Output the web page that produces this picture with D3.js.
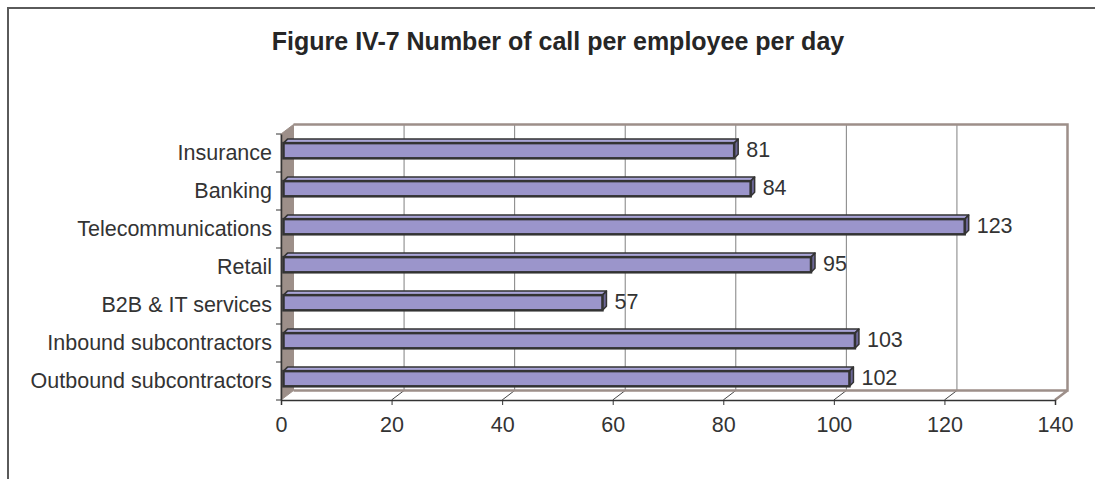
<!DOCTYPE html>
<html>
<head>
<meta charset="utf-8">
<script src="https://cdn.jsdelivr.net/npm/d3@7"></script>
<style>
  html, body { margin: 0; padding: 0; background: #fff; }
  svg { display: block; font-family: "Liberation Sans", Arial, sans-serif; }
</style>
</head>
<body>
<svg width="1095" height="479"></svg>
<script>
// data, top to bottom as shown
const categories = ["Insurance", "Banking", "Telecommunications", "Retail",
    "B2B & IT services", "Inbound subcontractors", "Outbound subcontractors"];
const values = [81, 84, 123, 95, 57, 103, 102];
const xTicks = [0, 20, 40, 60, 80, 100, 120, 140];
const title = "Figure IV-7 Number of call per employee per day";

const svg = d3.select("svg");

// 3D depth of the plot box (back wall is shifted by this)
const depth = { dx: 12.5, dy: -9.5 };
const barDepth = { dx: 4, dy: -4 };
const labelSize = 21.5;

const x = d3.scaleLinear()
    .domain([0, 140])
    .range([281, 1055]);

// bars sit a bit further back than the front axis
const xBar = d3.scaleLinear()
    .domain([0, 140])
    .range([289.6, 1058]);

const y = d3.scaleBand()
    .domain(categories)
    .range([134, 400])
    .paddingInner(0.6)
    .paddingOuter(0.3)
    .align(0.4);

const yTop = 134, yBottom = 400;

// outer frame (cut off on the right and bottom)
svg.append("path")
    .attr("d", "M8,479 L8,8 L1095,8")
    .attr("fill", "none")
    .attr("stroke", "#5a5a5a")
    .attr("stroke-width", 2);

svg.append("text")
    .attr("x", 558)
    .attr("y", 50)
    .attr("text-anchor", "middle")
    .attr("font-weight", "bold")
    .attr("font-size", 25)
    .attr("fill", "#262626")
    .text(title);

const wallColor = "#9d8f89";

// side wall
svg.append("polygon")
    .attr("points", [
        [x(0), yTop], [x(0) + depth.dx, yTop + depth.dy],
        [x(0) + depth.dx, yBottom + depth.dy], [x(0), yBottom]
    ].join(" "))
    .attr("fill", wallColor)
    .attr("stroke", wallColor);

// back wall gridlines
svg.append("g")
    .selectAll("line")
    .data(xTicks.slice(1, -1))
    .enter().append("line")
    .attr("x1", d => x(d) + depth.dx)
    .attr("x2", d => x(d) + depth.dx)
    .attr("y1", yTop + depth.dy)
    .attr("y2", yBottom + depth.dy)
    .attr("stroke", "#808080")
    .attr("stroke-width", 1);

// floor gridlines (diagonals from front ticks)
svg.append("g")
    .selectAll("line")
    .data(xTicks.slice(1, -1))
    .enter().append("line")
    .attr("x1", d => x(d))
    .attr("x2", d => x(d) + depth.dx)
    .attr("y1", yBottom)
    .attr("y2", yBottom + depth.dy)
    .attr("stroke", "#444")
    .attr("stroke-width", 1);

// back wall outline: top and right edge, floor back edge + right diagonal
svg.append("path")
    .attr("d", `M${x(0) + depth.dx},${yTop + depth.dy} L${x(140) + depth.dx},${yTop + depth.dy}
        L${x(140) + depth.dx},${yBottom + depth.dy} L${x(0) + depth.dx},${yBottom + depth.dy}
        M${x(140) + depth.dx},${yBottom + depth.dy} L${x(140)},${yBottom}`)
    .attr("fill", "none")
    .attr("stroke", wallColor)
    .attr("stroke-width", 2.5);

// bars
const bars = svg.append("g")
    .selectAll("g")
    .data(values)
    .enter().append("g");

const barLeft = x(0) + 2.5;

bars.each(function(v, i) {
    const g = d3.select(this);
    const x1 = xBar(v);
    const y0 = y(categories[i]);
    const h = y.bandwidth();
    const dx = barDepth.dx, dy = barDepth.dy;
    // top face
    g.append("polygon")
        .attr("points", [[barLeft, y0], [barLeft + dx, y0 + dy], [x1 + dx, y0 + dy], [x1, y0]].join(" "))
        .attr("fill", "#aaa5d8")
        .attr("stroke", "#333")
        .attr("stroke-width", 1.5)
        .attr("stroke-linejoin", "round");
    // side face
    g.append("polygon")
        .attr("points", [[x1, y0], [x1 + dx, y0 + dy], [x1 + dx, y0 + h + dy], [x1, y0 + h]].join(" "))
        .attr("fill", "#6c6796")
        .attr("stroke", "#333")
        .attr("stroke-width", 1.5)
        .attr("stroke-linejoin", "round");
    // front face
    g.append("rect")
        .attr("x", barLeft)
        .attr("y", y0)
        .attr("width", x1 - barLeft)
        .attr("height", h)
        .attr("fill", "#9b95cb")
        .attr("stroke", "#333")
        .attr("stroke-width", 2.5);
    // value label
    g.append("text")
        .attr("x", x1 + dx + 8)
        .attr("y", y0 + h / 2 - 1)
        .attr("dy", "0.35em")
        .attr("font-size", labelSize)
        .attr("fill", "#333")
        .text(v);
});

// value axis (front)
const xAxis = svg.append("g")
    .attr("transform", `translate(0,${yBottom})`)
    .call(d3.axisBottom(x).tickValues(xTicks).tickSize(5).tickPadding(12));
xAxis.select(".domain").attr("stroke", "#333").attr("stroke-width", 1.5);
xAxis.selectAll(".tick line").attr("stroke", "#333");
xAxis.selectAll("text")
    .attr("font-size", labelSize)
    .attr("font-family", "Liberation Sans, Arial, sans-serif")
    .attr("fill", "#333");

// category axis
const yAxisScale = d3.scaleBand().domain(categories).range([yTop, yBottom]);
const yAxis = svg.append("g")
    .attr("transform", `translate(${x(0)},0)`)
    .call(d3.axisLeft(yAxisScale).tickSize(0).tickPadding(9));
yAxis.select(".domain").attr("stroke", "#333").attr("stroke-width", 1.5);
yAxis.selectAll("text")
    .attr("font-size", labelSize)
    .attr("font-family", "Liberation Sans, Arial, sans-serif")
    .attr("fill", "#333");

// tick marks on category boundaries
yAxis.append("g")
    .selectAll("line")
    .data(d3.range(categories.length + 1))
    .enter().append("line")
    .attr("x1", -5)
    .attr("x2", 0)
    .attr("y1", i => yTop + i * yAxisScale.step())
    .attr("y2", i => yTop + i * yAxisScale.step())
    .attr("stroke", "#333");
</script>
</body>
</html>
